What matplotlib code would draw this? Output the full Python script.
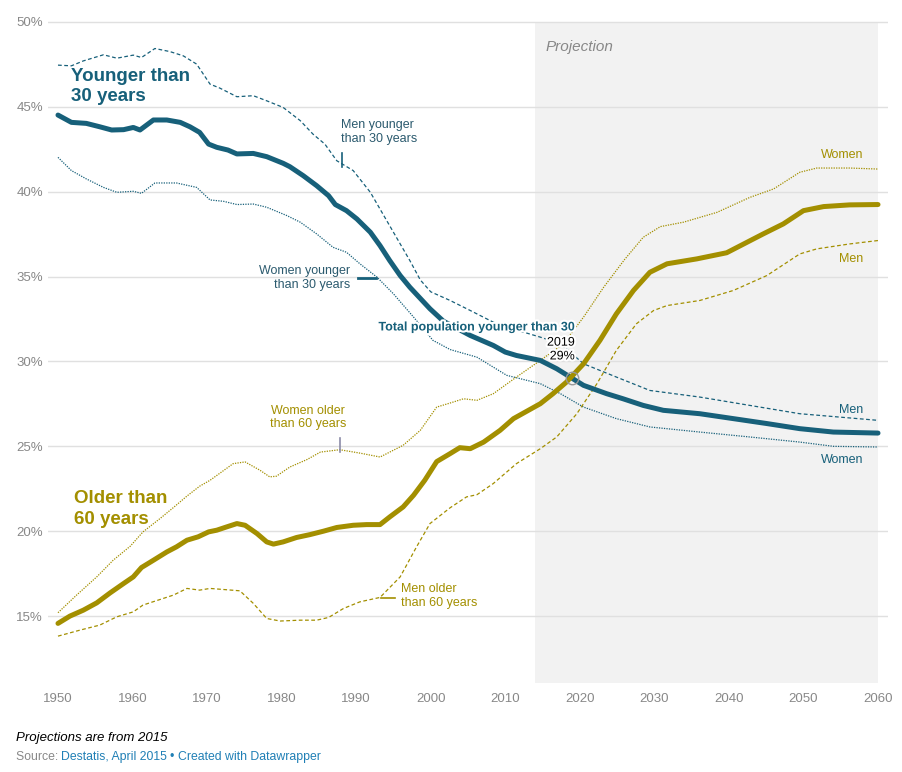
import matplotlib
matplotlib.use("Agg")
import matplotlib.pyplot as plt
import matplotlib.patheffects as pe

plt.rcParams['font.family'] = ['Liberation Sans', 'DejaVu Sans']

BLUE = '#17607a'
GOLD = '#a38f00'
GREY = '#888888'

# share of population younger than 30 (total / men / women)
young_total_years = [1950, 1951.8, 1953.8, 1955.6, 1957.2, 1958.8, 1960.1, 1961, 1962.8, 1964.6, 1966.4,
                     1967.7, 1969, 1970.2, 1971.3, 1972.8, 1974, 1976.2, 1978, 1980.2, 1981.1, 1982.9,
                     1984.7, 1986.3, 1987.2, 1988.7, 1990.1, 1991.9, 1993.2, 1994.5, 1995.9, 1997.2,
                     1999.9, 2001.7, 2005.3, 2008.4, 2010, 2011.5, 2014.7, 2016.9, 2019, 2020.5, 2023.6,
                     2025.8, 2028.5, 2031.2, 2036.1, 2040.6, 2045.1, 2049.5, 2054, 2060]
young_total = [44.51, 44.08, 44.02, 43.82, 43.63, 43.65, 43.78, 43.63, 44.22, 44.22, 44.08,
               43.82, 43.49, 42.80, 42.61, 42.45, 42.22, 42.25, 42.06, 41.67, 41.47, 40.94,
               40.35, 39.76, 39.24, 38.88, 38.39, 37.61, 36.82, 35.94, 35.06, 34.37,
               33.10, 32.37, 31.53, 30.94, 30.55, 30.35, 30.06, 29.57, 29.0, 28.59, 28.10,
               27.80, 27.41, 27.12, 26.92, 26.63, 26.34, 26.04, 25.84, 25.78]

young_men_years = [1950, 1951.8, 1953.4, 1956.1, 1957.9, 1960.1, 1961.2, 1963, 1965, 1966.8, 1968.6,
                   1970.4, 1971.7, 1974, 1976.2, 1978, 1980.2, 1982.5, 1984.2, 1985.8, 1987.4, 1989.6,
                   1991.9, 1994.1, 1997.2, 1998.6, 2000, 2002.6, 2005.3, 2008.4, 2011.5, 2014.7,
                   2017.4, 2020.5, 2024.9, 2029.4, 2036.1, 2042.8, 2049.5, 2060]
young_men = [47.45, 47.41, 47.7, 48.06, 47.86, 48.04, 47.9, 48.43, 48.25, 48.0, 47.51,
             46.33, 46.1, 45.59, 45.65, 45.35, 44.96, 44.18, 43.39, 42.8, 41.82, 41.24,
             39.96, 38.29, 35.94, 34.8, 34.1, 33.59, 33.0, 32.31, 31.85, 31.43,
             31.04, 29.86, 29.08, 28.29, 27.9, 27.41, 26.92, 26.53]

young_women_years = [1950, 1951.8, 1953.8, 1956.1, 1957.9, 1960.1, 1961.2, 1963, 1965.9, 1968.6, 1970.4,
                     1972.2, 1974, 1976.2, 1978, 1980.7, 1982.5, 1984.7, 1986.9, 1988.7, 1990.5, 1992.8,
                     1995, 1997.7, 2000.3, 2002.6, 2006.2, 2010.2, 2014.7, 2017.4, 2020.5, 2024.9,
                     2029.4, 2036.1, 2042.8, 2049.5, 2054, 2060]
young_women = [42.02, 41.24, 40.75, 40.25, 39.96, 40.02, 39.9, 40.51, 40.51, 40.25, 39.51,
               39.43, 39.24, 39.27, 39.08, 38.59, 38.2, 37.51, 36.72, 36.43, 35.75, 34.96,
               33.98, 32.61, 31.24, 30.7, 30.25, 29.18, 28.69, 28.1, 27.31, 26.63,
               26.14, 25.84, 25.55, 25.25, 25.0, 24.96]

# share of population older than 60 (total / women / men)
old_total_years = [1950, 1951.6, 1953.4, 1955.2, 1957, 1958.8, 1960.1, 1961.2, 1962.8, 1964.6, 1965.9,
                   1967.3, 1968.8, 1970.2, 1971.3, 1972.6, 1974, 1975.1, 1976.7, 1978, 1978.9, 1980.2,
                   1982, 1983.8, 1985.6, 1987.4, 1989.6, 1991.4, 1993.2, 1994.5, 1996.3, 1997.7,
                   1999.2, 2000.8, 2002.6, 2003.9, 2005.3, 2007.1, 2009.3, 2011.1, 2014.7, 2016.4,
                   2018.2, 2020.5, 2022.7, 2024.9, 2027.2, 2029.4, 2031.7, 2035.7, 2039.7, 2044.6,
                   2047.3, 2050, 2052.7, 2056.2, 2060]
old_total = [14.57, 15.0, 15.35, 15.78, 16.37, 16.92, 17.31, 17.86, 18.29, 18.78, 19.08,
             19.47, 19.67, 19.96, 20.06, 20.25, 20.45, 20.35, 19.86, 19.37, 19.24, 19.37,
             19.63, 19.8, 20.0, 20.22, 20.35, 20.39, 20.39, 20.84, 21.43, 22.12,
             23.0, 24.1, 24.57, 24.92, 24.86, 25.25, 25.94, 26.63, 27.51, 28.1,
             28.78, 29.86, 31.24, 32.8, 34.18, 35.25, 35.75, 36.04, 36.4, 37.51,
             38.1, 38.88, 39.12, 39.22, 39.24]

old_women_years = [1950, 1952.5, 1955.2, 1957.4, 1959.7, 1961.4, 1963.7, 1965.5, 1967.3, 1969, 1970.4,
                   1973.5, 1975.1, 1977.1, 1978.4, 1979.3, 1981.1, 1983.4, 1985.2, 1987.8, 1990.5,
                   1993.2, 1996.3, 1998.6, 2000.8, 2002.6, 2004.4, 2006.2, 2008.4, 2011.5, 2014.7,
                   2017.8, 2020.5, 2023.2, 2026, 2028.5, 2030.8, 2033.9, 2038.4, 2042.8, 2046,
                   2049.5, 2051.8, 2056.2, 2060]
old_women = [15.2, 16.24, 17.31, 18.29, 19.12, 19.96, 20.75, 21.4, 22.07, 22.65, 23.0,
             23.98, 24.08, 23.59, 23.2, 23.24, 23.78, 24.22, 24.66, 24.8, 24.6,
             24.37, 25.06, 25.94, 27.31, 27.55, 27.8, 27.71, 28.1, 29.08, 30.06,
             31.04, 32.61, 34.37, 36.0, 37.31, 37.94, 38.2, 38.78, 39.66, 40.16,
             41.14, 41.39, 41.39, 41.33]

old_men_years = [1950, 1953, 1955.6, 1957.9, 1960.1, 1961.4, 1963.7, 1965.5, 1967.3, 1969, 1970.4,
                 1974.4, 1976.2, 1978, 1979.8, 1982.5, 1984.7, 1986.3, 1988.3, 1990.5, 1993.2,
                 1995.9, 1998.1, 1999.9, 2002.6, 2004.8, 2006.2, 2008.4, 2011.5, 2014.7, 2016.9,
                 2019.6, 2022.3, 2024.9, 2027.6, 2029.9, 2031.7, 2036.1, 2040.6, 2045.1, 2049.5,
                 2051.8, 2056.2, 2060]
old_men = [13.82, 14.18, 14.47, 14.96, 15.25, 15.65, 15.98, 16.24, 16.63, 16.53, 16.63,
           16.49, 15.75, 14.86, 14.71, 14.76, 14.76, 14.92, 15.45, 15.84, 16.1,
           17.31, 19.08, 20.45, 21.38, 22.02, 22.15, 22.81, 23.98, 24.86, 25.55,
           26.92, 28.69, 30.65, 32.22, 33.0, 33.29, 33.59, 34.18, 35.06, 36.33,
           36.63, 36.92, 37.12]

year_ticks = list(range(1950, 2061, 10))
pct_ticks = list(range(15, 51, 5))
projection_start, projection_end = 2014, 2060
marker_year, marker_value = 2019, 29

fig = plt.figure(figsize=(9.02, 7.72), dpi=100)
ax = fig.add_axes([48 / 902, 1 - 683 / 772, 840 / 902, 662 / 772])

ax.set_xlim(1948.66, 2061.34)
ax.set_ylim(11.06, 50.05)

# projection shading
ax.axvspan(projection_start, projection_end, ymin=0, ymax=(50 - 11.06) / (50.05 - 11.06),
           color='#f2f2f2', lw=0, zorder=0)

for s in ax.spines.values():
    s.set_visible(False)
ax.set_yticks(pct_ticks)
ax.set_yticklabels([f'{v}%' for v in pct_ticks])
ax.set_xticks(year_ticks)
ax.tick_params(axis='both', length=0, labelcolor=GREY, labelsize=9.5)
ax.tick_params(axis='y', pad=3.5)
ax.tick_params(axis='x', pad=7)
ax.grid(axis='y', color='#e0e0e0', lw=1, zorder=1)
ax.grid(axis='x', visible=False)

thin = 0.9
ax.plot(young_men_years, young_men, color=BLUE, lw=thin, ls=(0, (3, 2)), zorder=3)
ax.plot(young_women_years, young_women, color=BLUE, lw=thin, ls=(0, (1, 1)), zorder=3)
ax.plot(old_women_years, old_women, color=GOLD, lw=thin, ls=(0, (1, 1)), zorder=3)
ax.plot(old_men_years, old_men, color=GOLD, lw=thin, ls=(0, (3, 2)), zorder=3)
ax.plot(young_total_years, young_total, color=BLUE, lw=3.6, solid_capstyle='round',
        solid_joinstyle='round', zorder=4)
ax.plot(old_total_years, old_total, color=GOLD, lw=3.6, solid_capstyle='round',
        solid_joinstyle='round', zorder=5)

halo = [pe.withStroke(linewidth=3, foreground='white')]

# big labels
ax.text(1951.74, 47.3, 'Younger than\n30 years', color=BLUE, fontsize=13.5, fontweight='bold',
        va='top', ha='left', linespacing=1.25, zorder=6)
ax.text(1952.15, 22.4, 'Older than\n60 years', color=GOLD, fontsize=13.5, fontweight='bold',
        va='top', ha='left', linespacing=1.3, zorder=6)
ax.text(2015.46, 48.53, 'Projection', color=GREY, fontsize=11, style='italic', va='center', zorder=6)

# annotations
ax.text(1987.96, 42.75, 'Men younger\nthan 30 years', color='#2b5a6e', fontsize=9,
        ha='left', va='bottom', linespacing=1.2, zorder=6)
ax.plot([1988.1, 1988.1], [42.29, 41.47], color=BLUE, lw=1.2, zorder=6)

ax.text(1989.17, 34.91, 'Women younger\nthan 30 years', color='#2b5a6e', fontsize=9,
        ha='right', va='center', linespacing=1.2, zorder=6)
ax.plot([1990.24, 1992.66], [34.94, 34.94], color=BLUE, lw=2, zorder=6)

ax.text(2019.35, 32.0, 'Total population younger than 30', color=BLUE, fontsize=9, fontweight='bold',
        ha='right', va='center', path_effects=halo, zorder=7)
ax.text(2019.35, 30.7, f'{marker_year}\n{marker_value}%', color='black', fontsize=9,
        ha='right', va='center', linespacing=1.2, path_effects=halo, zorder=7)
ax.plot([marker_year], [marker_value], marker='o', ms=9, mfc='none', mec='#999999', mew=1, zorder=7)

ax.text(1983.54, 26.7, 'Women older\nthan 60 years', color=GOLD, fontsize=9,
        ha='center', va='center', linespacing=1.2, zorder=6)
ax.plot([1987.83, 1987.83], [25.47, 24.65], color='#8b8ba8', lw=1.2, zorder=6)

ax.text(1996.01, 16.18, 'Men older\nthan 60 years', color=GOLD, fontsize=9,
        ha='left', va='center', linespacing=1.2, zorder=6)
ax.plot([1993.33, 1995.2], [16.06, 16.06], color=GOLD, lw=1.2, zorder=6)

# right-side labels
ax.text(2058.0, 42.18, 'Women', color=GOLD, fontsize=9, ha='right', va='center', zorder=6)
ax.text(2058.0, 36.06, 'Men', color=GOLD, fontsize=9, ha='right', va='center', zorder=6)
ax.text(2058.0, 27.12, 'Men', color=BLUE, fontsize=9, ha='right', va='center', zorder=6)
ax.text(2058.0, 24.18, 'Women', color=BLUE, fontsize=9, ha='right', va='center', zorder=6)

# footer
fig.text(16 / 902, 1 - 738 / 772, 'Projections are from 2015', fontsize=9.5, style='italic',
         color='black', va='center')
fig.text(16 / 902, 1 - 757 / 772, 'Source: ', fontsize=8.8, color=GREY, va='center')
fig.text(61 / 902, 1 - 757 / 772, 'Destatis, April 2015', fontsize=8.8, color='#1f7fb5', va='center')
fig.text(170 / 902, 1 - 757 / 772, '\u2022', fontsize=8.8, color='#1f7fb5', va='center')
fig.text(178 / 902, 1 - 757 / 772, 'Created with Datawrapper', fontsize=8.8, color='#1f7fb5', va='center')

fig.savefig('out.png', dpi=100)
